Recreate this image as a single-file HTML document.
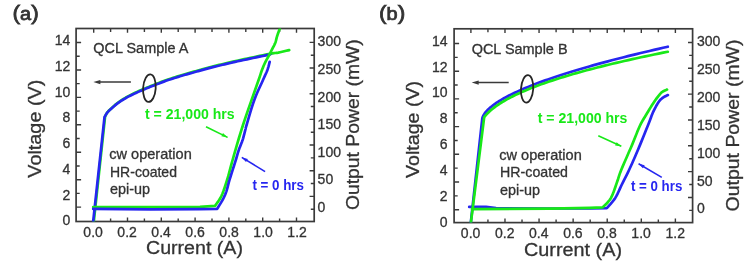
<!DOCTYPE html><html><head><meta charset="utf-8"><style>html,body{margin:0;padding:0;background:#fff;}svg{display:block;filter:blur(0.45px);}</style></head><body>
<svg width="750" height="261" viewBox="0 0 750 261" font-family='"Liberation Sans", sans-serif'>
<rect width="750" height="261" fill="#ffffff"/>
<path d="M93.70,28.5v4.2M93.70,221.5v-4.0M110.60,28.5v3.4M110.60,221.5v-3.0M127.50,28.5v4.2M127.50,221.5v-4.0M144.40,28.5v3.4M144.40,221.5v-3.0M161.30,28.5v4.2M161.30,221.5v-4.0M178.20,28.5v3.4M178.20,221.5v-3.0M195.10,28.5v4.2M195.10,221.5v-4.0M212.00,28.5v3.4M212.00,221.5v-3.0M228.90,28.5v4.2M228.90,221.5v-4.0M245.80,28.5v3.4M245.80,221.5v-3.0M262.70,28.5v4.2M262.70,221.5v-4.0M279.60,28.5v3.4M279.60,221.5v-3.0M296.50,28.5v4.2M296.50,221.5v-4.0M76.1,42.50h5.0M76.1,56.22h3.6M76.1,69.94h5.0M76.1,83.66h3.6M76.1,97.38h5.0M76.1,111.10h3.6M76.1,124.82h5.0M76.1,138.54h3.6M76.1,152.26h5.0M76.1,165.98h3.6M76.1,179.70h5.0M76.1,193.42h3.6M76.1,207.14h5.0M314.2,42.40h-4.6M314.2,55.23h-3.4M314.2,68.06h-4.6M314.2,80.89h-3.4M314.2,93.72h-4.6M314.2,106.55h-3.4M314.2,119.38h-4.6M314.2,132.21h-3.4M314.2,145.04h-4.6M314.2,157.87h-3.4M314.2,170.70h-4.6M314.2,183.53h-3.4M314.2,196.36h-4.6M314.2,209.19h-3.4" stroke="#3a3a3a" stroke-width="1.4" fill="none"/>
<rect x="76.1" y="28.5" width="238.10" height="193.00" stroke="#3a3a3a" stroke-width="1.7" fill="none"/>
<text id="al0" transform="translate(70.30,45.3) scale(1.0000,1)" text-anchor="end" font-size="14" fill="#333333" stroke="#333333" stroke-width="0.3">14</text>
<text id="al1" transform="translate(70.30,71.0) scale(1.0000,1)" text-anchor="end" font-size="14" fill="#333333" stroke="#333333" stroke-width="0.3">12</text>
<text id="al2" transform="translate(70.30,96.7) scale(1.0000,1)" text-anchor="end" font-size="14" fill="#333333" stroke="#333333" stroke-width="0.3">10</text>
<text id="al3" transform="translate(70.30,122.4) scale(1.0000,1)" text-anchor="end" font-size="14" fill="#333333" stroke="#333333" stroke-width="0.3">8</text>
<text id="al4" transform="translate(70.30,148.1) scale(1.0000,1)" text-anchor="end" font-size="14" fill="#333333" stroke="#333333" stroke-width="0.3">6</text>
<text id="al5" transform="translate(70.30,173.8) scale(1.0000,1)" text-anchor="end" font-size="14" fill="#333333" stroke="#333333" stroke-width="0.3">4</text>
<text id="al6" transform="translate(70.30,199.5) scale(1.0000,1)" text-anchor="end" font-size="14" fill="#333333" stroke="#333333" stroke-width="0.3">2</text>
<text id="al7" transform="translate(70.30,225.2) scale(1.0000,1)" text-anchor="end" font-size="14" fill="#333333" stroke="#333333" stroke-width="0.3">0</text>
<text id="ar0" transform="translate(317.60,46.4) scale(1.0000,1)" text-anchor="start" font-size="14" fill="#333333" stroke="#333333" stroke-width="0.3">300</text>
<text id="ar1" transform="translate(317.60,73.95) scale(1.0000,1)" text-anchor="start" font-size="14" fill="#333333" stroke="#333333" stroke-width="0.3">250</text>
<text id="ar2" transform="translate(317.60,101.5) scale(1.0000,1)" text-anchor="start" font-size="14" fill="#333333" stroke="#333333" stroke-width="0.3">200</text>
<text id="ar3" transform="translate(317.60,129.05) scale(1.0000,1)" text-anchor="start" font-size="14" fill="#333333" stroke="#333333" stroke-width="0.3">150</text>
<text id="ar4" transform="translate(317.60,156.6) scale(1.0000,1)" text-anchor="start" font-size="14" fill="#333333" stroke="#333333" stroke-width="0.3">100</text>
<text id="ar5" transform="translate(317.60,184.15) scale(1.0000,1)" text-anchor="start" font-size="14" fill="#333333" stroke="#333333" stroke-width="0.3">50</text>
<text id="ar6" transform="translate(317.60,211.7) scale(1.0000,1)" text-anchor="start" font-size="14" fill="#333333" stroke="#333333" stroke-width="0.3">0</text>
<text id="ab0" transform="translate(93.10,236.9) scale(1.0000,1)" text-anchor="middle" font-size="14" fill="#333333" stroke="#333333" stroke-width="0.3">0.0</text>
<text id="ab1" transform="translate(127.10,236.9) scale(1.0000,1)" text-anchor="middle" font-size="14" fill="#333333" stroke="#333333" stroke-width="0.3">0.2</text>
<text id="ab2" transform="translate(161.10,236.9) scale(1.0000,1)" text-anchor="middle" font-size="14" fill="#333333" stroke="#333333" stroke-width="0.3">0.4</text>
<text id="ab3" transform="translate(195.10,236.9) scale(1.0000,1)" text-anchor="middle" font-size="14" fill="#333333" stroke="#333333" stroke-width="0.3">0.6</text>
<text id="ab4" transform="translate(229.10,236.9) scale(1.0000,1)" text-anchor="middle" font-size="14" fill="#333333" stroke="#333333" stroke-width="0.3">0.8</text>
<text id="ab5" transform="translate(263.10,236.9) scale(1.0000,1)" text-anchor="middle" font-size="14" fill="#333333" stroke="#333333" stroke-width="0.3">1.0</text>
<text id="ab6" transform="translate(297.10,236.9) scale(1.0000,1)" text-anchor="middle" font-size="14" fill="#333333" stroke="#333333" stroke-width="0.3">1.2</text>
<text id="acur" transform="translate(146.00,254.3) scale(1.0327,1)" text-anchor="start" font-size="19" fill="#333333" stroke="#333333" stroke-width="0.3">Current (A)</text>
<text id="avolt" transform="translate(41,177.70) rotate(-90) scale(1.0433,1)" text-anchor="start" font-size="19" fill="#333333" stroke="#333333" stroke-width="0.3">Voltage (V)</text>
<text id="aoutp" transform="translate(359,210.10) rotate(-90) scale(1.0183,1)" text-anchor="start" font-size="19" fill="#333333" stroke="#333333" stroke-width="0.3">Output Power (mW)</text>
<text id="atag" transform="translate(12.50,20.3) scale(1.1382,1)" text-anchor="start" font-size="20" fill="#333333" stroke="#333333" stroke-width="0.75">(<tspan font-size="17.5">a</tspan>)</text>
<text id="aqcl" transform="translate(93.30,52.9) scale(1.0325,1)" text-anchor="start" font-size="14" fill="#333333" stroke="#333333" stroke-width="0.3">QCL Sample A</text>
<text id="ablk0" transform="translate(109.30,158.9) scale(1.0388,1)" text-anchor="start" font-size="14" fill="#333333" stroke="#333333" stroke-width="0.3">cw operation</text>
<text id="ablk1" transform="translate(110.00,176.6) scale(1.0010,1)" text-anchor="start" font-size="14" fill="#333333" stroke="#333333" stroke-width="0.3">HR-coated</text>
<text id="ablk2" transform="translate(110.00,193.7) scale(1.0287,1)" text-anchor="start" font-size="14" fill="#333333" stroke="#333333" stroke-width="0.3">epi-up</text>
<line x1="98.4" y1="82.1" x2="130.9" y2="82.1" stroke="#3a3a3a" stroke-width="1.5"/>
<polygon points="93.4,82.1 100.4,79.89999999999999 100.4,84.3" fill="#3a3a3a"/>
<clipPath id="aclip"><rect x="76.1" y="28.5" width="238.1" height="193.0"/></clipPath>
<g clip-path="url(#aclip)" fill="none" stroke-width="2.7" stroke-linejoin="round" stroke-linecap="round">
<path d="M93.80,221.50 L105.10,116.40 L105.36,115.92 L105.72,115.25 L106.14,114.46 L106.61,113.62 L107.11,112.81 L107.60,112.10 L108.06,111.52 L108.51,111.03 L108.97,110.56 L109.50,110.06 L110.13,109.49 L110.90,108.80 L111.82,107.95 L112.87,106.99 L114.01,105.94 L115.23,104.87 L116.50,103.81 L117.80,102.80 L119.15,101.83 L120.57,100.86 L122.04,99.90 L123.54,98.96 L125.03,98.06 L126.50,97.20 L127.94,96.39 L129.37,95.62 L130.81,94.89 L132.24,94.18 L133.67,93.48 L135.10,92.80 L136.53,92.13 L137.97,91.48 L139.40,90.84 L140.83,90.22 L142.27,89.61 L143.70,89.00 L145.13,88.40 L146.57,87.81 L148.00,87.22 L149.43,86.65 L150.87,86.07 L152.30,85.50 L153.73,84.92 L155.16,84.35 L156.59,83.78 L158.03,83.21 L159.46,82.65 L160.90,82.10 L162.32,81.57 L163.71,81.06 L165.10,80.56 L166.53,80.05 L168.02,79.54 L169.60,79.00 L171.31,78.43 L173.13,77.84 L175.02,77.24 L176.92,76.64 L178.80,76.05 L180.60,75.50 L182.32,74.98 L184.01,74.49 L185.66,74.01 L187.30,73.54 L188.94,73.07 L190.60,72.60 L192.26,72.13 L193.90,71.67 L195.54,71.21 L197.19,70.74 L198.88,70.28 L200.60,69.80 L202.37,69.31 L204.17,68.81 L206.01,68.30 L207.86,67.79 L209.73,67.29 L211.60,66.80 L213.48,66.32 L215.36,65.86 L217.26,65.39 L219.17,64.93 L221.12,64.47 L223.10,64.00 L225.06,63.53 L226.99,63.08 L228.94,62.62 L230.99,62.14 L233.19,61.64 L235.60,61.10 L238.29,60.50 L241.22,59.86 L244.31,59.19 L247.46,58.51 L250.58,57.84 L253.60,57.20 L256.63,56.55 L259.75,55.88 L262.86,55.22 L265.81,54.60 L268.50,54.05 L270.80,53.60 L272.57,53.30 L273.89,53.13 L274.94,53.03 L275.91,52.95 L276.97,52.82 L278.30,52.60 L280.05,52.24 L282.09,51.79 L284.22,51.29 L286.25,50.80 L287.97,50.39 L289.20,50.10" stroke="#18e818"/>
<path d="M93.20,221.50 L104.50,117.20 L104.76,116.72 L105.12,116.05 L105.54,115.26 L106.01,114.42 L106.51,113.61 L107.00,112.90 L107.46,112.32 L107.91,111.83 L108.38,111.36 L108.90,110.86 L109.53,110.29 L110.30,109.60 L111.22,108.75 L112.27,107.79 L113.41,106.74 L114.63,105.67 L115.90,104.61 L117.20,103.60 L118.55,102.63 L119.97,101.66 L121.44,100.70 L122.94,99.76 L124.43,98.86 L125.90,98.00 L127.34,97.19 L128.77,96.42 L130.21,95.69 L131.64,94.98 L133.07,94.28 L134.50,93.60 L135.93,92.93 L137.37,92.28 L138.80,91.64 L140.23,91.02 L141.67,90.41 L143.10,89.80 L144.53,89.20 L145.97,88.61 L147.40,88.02 L148.83,87.45 L150.27,86.87 L151.70,86.30 L153.13,85.72 L154.56,85.15 L155.99,84.58 L157.43,84.01 L158.86,83.45 L160.30,82.90 L161.72,82.37 L163.11,81.86 L164.50,81.36 L165.93,80.85 L167.42,80.34 L169.00,79.80 L170.71,79.23 L172.53,78.64 L174.42,78.04 L176.32,77.44 L178.20,76.85 L180.00,76.30 L181.72,75.78 L183.41,75.29 L185.06,74.81 L186.70,74.34 L188.34,73.87 L190.00,73.40 L191.66,72.93 L193.30,72.47 L194.94,72.01 L196.59,71.54 L198.28,71.08 L200.00,70.60 L201.77,70.11 L203.57,69.61 L205.41,69.10 L207.26,68.59 L209.13,68.09 L211.00,67.60 L212.88,67.12 L214.76,66.66 L216.66,66.19 L218.57,65.73 L220.52,65.27 L222.50,64.80 L224.46,64.33 L226.39,63.88 L228.34,63.42 L230.39,62.94 L232.59,62.44 L235.00,61.90 L237.69,61.30 L240.62,60.66 L243.71,59.99 L246.86,59.31 L249.98,58.64 L253.00,58.00 L256.11,57.34 L259.43,56.64 L262.73,55.96 L265.77,55.32 L268.34,54.79 L270.20,54.40" stroke="#2626f0"/>
<path d="M93.20,207.10 L150.00,207.20 L200.00,206.80 L215.00,205.90 L215.71,204.88 L216.71,203.53 L217.88,201.90 L219.14,200.04 L220.38,197.99 L221.50,195.80 L222.53,193.41 L223.54,190.78 L224.53,187.96 L225.51,185.01 L226.46,182.00 L227.40,179.00 L228.25,176.15 L228.99,173.42 L229.72,170.64 L230.51,167.60 L231.44,164.12 L232.60,160.00 L233.97,155.21 L235.49,149.89 L237.15,144.12 L238.96,138.00 L240.91,131.60 L243.00,125.00 L245.44,117.67 L248.27,109.43 L251.25,100.91 L254.13,92.74 L256.66,85.56 L258.60,80.00 L259.85,76.35 L260.58,74.15 L260.96,72.94 L261.18,72.25 L261.40,71.59 L261.80,70.50 L262.35,69.07 L262.89,67.69 L263.44,66.34 L264.00,65.03 L264.58,63.72 L265.20,62.40 L265.87,61.05 L266.60,59.67 L267.36,58.31 L268.10,56.98 L268.79,55.73 L269.40,54.60 L269.90,53.63 L270.33,52.79 L270.70,52.04 L271.06,51.30 L271.45,50.51 L271.90,49.60 L272.43,48.57 L273.03,47.45 L273.65,46.28 L274.26,45.10 L274.82,43.93 L275.30,42.80 L275.67,41.73 L275.96,40.69 L276.21,39.67 L276.44,38.64 L276.69,37.59 L277.00,36.50 L277.39,35.32 L277.83,34.06 L278.29,32.77 L278.75,31.52 L279.16,30.38 L279.50,29.40 L279.77,28.58 L279.98,27.87 L280.16,27.26 L280.30,26.74 L280.41,26.33 L280.50,26.00" stroke="#18e818"/>
<path d="M93.20,208.90 L150.00,209.30 L200.00,209.20 L217.20,208.80 L217.83,207.77 L218.73,206.34 L219.78,204.64 L220.88,202.84 L221.92,201.08 L222.80,199.50 L223.51,198.15 L224.13,196.90 L224.70,195.69 L225.23,194.46 L225.76,193.11 L226.30,191.60 L226.81,189.98 L227.27,188.32 L227.73,186.56 L228.21,184.63 L228.79,182.46 L229.50,180.00 L230.41,177.04 L231.49,173.59 L232.66,169.90 L233.83,166.24 L234.91,162.85 L235.80,160.00 L236.48,157.75 L237.01,155.93 L237.46,154.38 L237.86,152.96 L238.29,151.55 L238.80,150.00 L239.40,148.33 L240.05,146.67 L240.72,145.00 L241.39,143.33 L242.02,141.67 L242.60,140.00 L243.13,138.28 L243.63,136.48 L244.11,134.69 L244.54,132.96 L244.94,131.38 L245.30,130.00 L245.52,129.11 L245.60,128.70 L245.64,128.44 L245.74,127.96 L246.03,126.93 L246.60,125.00 L247.50,121.93 L248.66,117.96 L249.99,113.44 L251.42,108.70 L252.88,104.11 L254.30,100.00 L255.74,96.26 L257.29,92.59 L258.86,89.06 L260.38,85.74 L261.79,82.70 L263.00,80.00 L264.01,77.73 L264.86,75.86 L265.60,74.26 L266.25,72.83 L266.84,71.45 L267.40,70.00 L267.93,68.43 L268.41,66.83 L268.82,65.28 L269.18,63.86 L269.47,62.67 L269.70,61.80" stroke="#2626f0"/>
</g>
<ellipse cx="149.4" cy="88.2" rx="6.3" ry="13.8" transform="rotate(4 149.4 88.2)" stroke="#262626" stroke-width="1.8" fill="none"/>
<line x1="206" y1="126.7" x2="227.6" y2="137.4" stroke="#18e818" stroke-width="1.6"/>
<polygon points="227.6,137.4 221.4,136.3 223.0,133.1" fill="#18e818"/>
<line x1="241.8" y1="157.4" x2="265.1" y2="171.6" stroke="#2626f0" stroke-width="1.6"/>
<polygon points="241.8,157.4 247.9,159.0 246.0,162.1" fill="#2626f0"/>
<text id="at21" transform="translate(145.00,118.9) scale(0.9274,1)" text-anchor="start" font-size="15.2" fill="#18e818" stroke="#18e818" stroke-width="0.0" font-weight="bold">t = 21,000 hrs</text>
<text id="at0" transform="translate(252.40,190.2) scale(0.8801,1)" text-anchor="start" font-size="15.2" fill="#2626f0" stroke="#2626f0" stroke-width="0.0" font-weight="bold">t = 0 hrs</text>
<path d="M470.90,28.8v4.2M470.90,222.6v-4.0M487.94,28.8v3.4M487.94,222.6v-3.0M504.98,28.8v4.2M504.98,222.6v-4.0M522.02,28.8v3.4M522.02,222.6v-3.0M539.06,28.8v4.2M539.06,222.6v-4.0M556.10,28.8v3.4M556.10,222.6v-3.0M573.14,28.8v4.2M573.14,222.6v-4.0M590.18,28.8v3.4M590.18,222.6v-3.0M607.22,28.8v4.2M607.22,222.6v-4.0M624.26,28.8v3.4M624.26,222.6v-3.0M641.30,28.8v4.2M641.30,222.6v-4.0M658.34,28.8v3.4M658.34,222.6v-3.0M675.38,28.8v4.2M675.38,222.6v-4.0M454.1,43.50h5.0M454.1,57.35h3.6M454.1,71.20h5.0M454.1,85.05h3.6M454.1,98.90h5.0M454.1,112.75h3.6M454.1,126.60h5.0M454.1,140.45h3.6M454.1,154.30h5.0M454.1,168.15h3.6M454.1,182.00h5.0M454.1,195.85h3.6M454.1,209.70h5.0M692.6,42.45h-4.6M692.6,55.37h-3.4M692.6,68.29h-4.6M692.6,81.21h-3.4M692.6,94.13h-4.6M692.6,107.05h-3.4M692.6,119.97h-4.6M692.6,132.89h-3.4M692.6,145.81h-4.6M692.6,158.73h-3.4M692.6,171.65h-4.6M692.6,184.57h-3.4M692.6,197.49h-4.6M692.6,210.41h-3.4" stroke="#3a3a3a" stroke-width="1.4" fill="none"/>
<rect x="454.1" y="28.8" width="238.50" height="193.80" stroke="#3a3a3a" stroke-width="1.7" fill="none"/>
<text id="bl0" transform="translate(447.60,45.6) scale(1.0000,1)" text-anchor="end" font-size="14" fill="#333333" stroke="#333333" stroke-width="0.3">14</text>
<text id="bl1" transform="translate(447.60,71.5) scale(1.0000,1)" text-anchor="end" font-size="14" fill="#333333" stroke="#333333" stroke-width="0.3">12</text>
<text id="bl2" transform="translate(447.60,97.4) scale(1.0000,1)" text-anchor="end" font-size="14" fill="#333333" stroke="#333333" stroke-width="0.3">10</text>
<text id="bl3" transform="translate(447.60,123.3) scale(1.0000,1)" text-anchor="end" font-size="14" fill="#333333" stroke="#333333" stroke-width="0.3">8</text>
<text id="bl4" transform="translate(447.60,149.2) scale(1.0000,1)" text-anchor="end" font-size="14" fill="#333333" stroke="#333333" stroke-width="0.3">6</text>
<text id="bl5" transform="translate(447.60,175.1) scale(1.0000,1)" text-anchor="end" font-size="14" fill="#333333" stroke="#333333" stroke-width="0.3">4</text>
<text id="bl6" transform="translate(447.60,201.0) scale(1.0000,1)" text-anchor="end" font-size="14" fill="#333333" stroke="#333333" stroke-width="0.3">2</text>
<text id="bl7" transform="translate(447.60,226.9) scale(1.0000,1)" text-anchor="end" font-size="14" fill="#333333" stroke="#333333" stroke-width="0.3">0</text>
<text id="br0" transform="translate(696.90,46.4) scale(1.0000,1)" text-anchor="start" font-size="14" fill="#333333" stroke="#333333" stroke-width="0.3">300</text>
<text id="br1" transform="translate(696.90,74.23) scale(1.0000,1)" text-anchor="start" font-size="14" fill="#333333" stroke="#333333" stroke-width="0.3">250</text>
<text id="br2" transform="translate(696.90,102.06) scale(1.0000,1)" text-anchor="start" font-size="14" fill="#333333" stroke="#333333" stroke-width="0.3">200</text>
<text id="br3" transform="translate(696.90,129.89) scale(1.0000,1)" text-anchor="start" font-size="14" fill="#333333" stroke="#333333" stroke-width="0.3">150</text>
<text id="br4" transform="translate(696.90,157.72) scale(1.0000,1)" text-anchor="start" font-size="14" fill="#333333" stroke="#333333" stroke-width="0.3">100</text>
<text id="br5" transform="translate(696.90,185.55) scale(1.0000,1)" text-anchor="start" font-size="14" fill="#333333" stroke="#333333" stroke-width="0.3">50</text>
<text id="br6" transform="translate(696.90,213.38) scale(1.0000,1)" text-anchor="start" font-size="14" fill="#333333" stroke="#333333" stroke-width="0.3">0</text>
<text id="bb0" transform="translate(470.60,238.1) scale(1.0000,1)" text-anchor="middle" font-size="14" fill="#333333" stroke="#333333" stroke-width="0.3">0.0</text>
<text id="bb1" transform="translate(504.70,238.1) scale(1.0000,1)" text-anchor="middle" font-size="14" fill="#333333" stroke="#333333" stroke-width="0.3">0.2</text>
<text id="bb2" transform="translate(538.80,238.1) scale(1.0000,1)" text-anchor="middle" font-size="14" fill="#333333" stroke="#333333" stroke-width="0.3">0.4</text>
<text id="bb3" transform="translate(572.90,238.1) scale(1.0000,1)" text-anchor="middle" font-size="14" fill="#333333" stroke="#333333" stroke-width="0.3">0.6</text>
<text id="bb4" transform="translate(607.00,238.1) scale(1.0000,1)" text-anchor="middle" font-size="14" fill="#333333" stroke="#333333" stroke-width="0.3">0.8</text>
<text id="bb5" transform="translate(641.10,238.1) scale(1.0000,1)" text-anchor="middle" font-size="14" fill="#333333" stroke="#333333" stroke-width="0.3">1.0</text>
<text id="bb6" transform="translate(675.20,238.1) scale(1.0000,1)" text-anchor="middle" font-size="14" fill="#333333" stroke="#333333" stroke-width="0.3">1.2</text>
<text id="bcur" transform="translate(524.00,255.5) scale(1.0433,1)" text-anchor="start" font-size="19" fill="#333333" stroke="#333333" stroke-width="0.3">Current (A)</text>
<text id="bvolt" transform="translate(419,177.90) rotate(-90) scale(1.0326,1)" text-anchor="start" font-size="19" fill="#333333" stroke="#333333" stroke-width="0.3">Voltage (V)</text>
<text id="boutp" transform="translate(738.5,211.40) rotate(-90) scale(1.0241,1)" text-anchor="start" font-size="19" fill="#333333" stroke="#333333" stroke-width="0.3">Output Power (mW)</text>
<text id="btag" transform="translate(379.00,20.3) scale(1.1414,1)" text-anchor="start" font-size="20" fill="#333333" stroke="#333333" stroke-width="0.75">(<tspan font-size="17.5">b</tspan>)</text>
<text id="bqcl" transform="translate(471.70,54.1) scale(1.0332,1)" text-anchor="start" font-size="14" fill="#333333" stroke="#333333" stroke-width="0.3">QCL Sample B</text>
<text id="bblk0" transform="translate(499.30,159.5) scale(1.0388,1)" text-anchor="start" font-size="14" fill="#333333" stroke="#333333" stroke-width="0.3">cw operation</text>
<text id="bblk1" transform="translate(500.00,177.2) scale(1.0158,1)" text-anchor="start" font-size="14" fill="#333333" stroke="#333333" stroke-width="0.3">HR-coated</text>
<text id="bblk2" transform="translate(500.00,194.5) scale(1.0285,1)" text-anchor="start" font-size="14" fill="#333333" stroke="#333333" stroke-width="0.3">epi-up</text>
<line x1="476.7" y1="82.6" x2="508.7" y2="82.6" stroke="#3a3a3a" stroke-width="1.5"/>
<polygon points="471.7,82.6 478.7,80.39999999999999 478.7,84.8" fill="#3a3a3a"/>
<clipPath id="bclip"><rect x="454.1" y="28.8" width="238.5" height="193.79999999999998"/></clipPath>
<g clip-path="url(#bclip)" fill="none" stroke-width="2.7" stroke-linejoin="round" stroke-linecap="round">
<path d="M470.80,222.60 L482.30,118.44 L482.33,118.31 L482.42,117.96 L482.57,117.47 L482.78,116.89 L483.04,116.26 L483.37,115.59 L483.76,114.89 L484.20,114.17 L484.71,113.42 L485.27,112.66 L485.90,111.89 L486.58,111.11 L487.32,110.31 L488.13,109.50 L488.99,108.68 L489.91,107.86 L490.89,107.02 L491.93,106.18 L493.03,105.33 L494.19,104.47 L495.41,103.61 L496.69,102.73 L498.02,101.86 L499.42,100.97 L500.88,100.09 L502.39,99.19 L503.97,98.29 L505.60,97.39 L507.30,96.48 L509.05,95.57 L510.86,94.65 L512.74,93.72 L514.67,92.80 L516.66,91.86 L518.71,90.93 L520.82,89.99 L522.99,89.05 L525.22,88.10 L527.51,87.15 L529.86,86.19 L532.26,85.23 L534.73,84.27 L537.26,83.31 L539.84,82.34 L542.49,81.37 L545.19,80.39 L547.96,79.41 L550.78,78.43 L553.66,77.45 L556.61,76.46 L559.61,75.47 L562.67,74.48 L565.79,73.48 L568.97,72.49 L572.21,71.48 L575.51,70.48 L578.87,69.47 L582.29,68.46 L585.77,67.45 L589.30,66.44 L592.90,65.42 L596.55,64.40 L600.27,63.38 L604.04,62.36 L607.88,61.33 L611.77,60.30 L615.73,59.27 L619.74,58.24 L623.81,57.20 L627.94,56.17 L632.13,55.13 L636.38,54.08 L640.69,53.04 L645.06,51.99 L649.49,50.95 L653.98,49.90 L658.53,48.84 L663.13,47.79 L667.80,46.73" stroke="#2626f0"/>
<path d="M469.20,206.90 L486.00,206.90 L496.00,208.20 L550.00,208.50 L590.00,208.50 L606.80,208.20 L607.75,207.11 L609.09,205.63 L610.66,203.86 L612.31,201.91 L613.91,199.89 L615.30,197.90 L616.46,195.93 L617.51,193.89 L618.50,191.78 L619.48,189.59 L620.49,187.33 L621.60,185.00 L622.79,182.61 L624.03,180.17 L625.31,177.66 L626.61,175.06 L627.95,172.34 L629.30,169.50 L630.67,166.53 L632.06,163.46 L633.47,160.28 L634.91,156.98 L636.39,153.56 L637.90,150.00 L639.52,146.12 L641.27,141.89 L643.05,137.53 L644.77,133.28 L646.35,129.36 L647.70,126.00 L648.78,123.24 L649.67,120.91 L650.41,118.92 L651.06,117.16 L651.67,115.55 L652.30,114.00 L652.91,112.57 L653.44,111.37 L653.94,110.31 L654.43,109.32 L654.94,108.34 L655.50,107.30 L656.12,106.17 L656.77,105.01 L657.44,103.86 L658.12,102.74 L658.81,101.71 L659.50,100.80 L660.19,100.01 L660.89,99.33 L661.59,98.73 L662.29,98.18 L663.00,97.68 L663.70,97.20 L664.45,96.74 L665.26,96.31 L666.06,95.93 L666.81,95.59 L667.44,95.31 L667.90,95.10" stroke="#2626f0"/>
<path d="M470.90,222.60 L484.20,117.16 L484.23,117.12 L484.32,117.01 L484.46,116.82 L484.67,116.56 L484.94,116.24 L485.26,115.85 L485.64,115.40 L486.08,114.90 L486.58,114.35 L487.14,113.76 L487.76,113.12 L488.44,112.45 L489.17,111.75 L489.97,111.03 L490.82,110.27 L491.73,109.50 L492.70,108.70 L493.73,107.89 L494.82,107.07 L495.97,106.23 L497.17,105.37 L498.44,104.51 L499.76,103.64 L501.14,102.76 L502.59,101.87 L504.09,100.98 L505.65,100.08 L507.26,99.17 L508.94,98.27 L510.68,97.35 L512.47,96.44 L514.32,95.52 L516.24,94.60 L518.21,93.67 L520.24,92.74 L522.33,91.82 L524.47,90.89 L526.68,89.96 L528.95,89.02 L531.27,88.09 L533.65,87.16 L536.09,86.22 L538.59,85.29 L541.15,84.35 L543.77,83.42 L546.45,82.48 L549.19,81.54 L551.98,80.61 L554.83,79.67 L557.75,78.73 L560.72,77.80 L563.75,76.86 L566.84,75.93 L569.98,74.99 L573.19,74.06 L576.46,73.12 L579.78,72.19 L583.16,71.25 L586.61,70.32 L590.11,69.39 L593.67,68.45 L597.28,67.52 L600.96,66.59 L604.70,65.66 L608.49,64.73 L612.35,63.80 L616.26,62.87 L620.23,61.94 L624.26,61.01 L628.35,60.08 L632.50,59.16 L636.70,58.23 L640.97,57.30 L645.29,56.38 L649.68,55.45 L654.12,54.53 L658.62,53.61 L663.18,52.68 L667.80,51.76" stroke="#18e818"/>
<path d="M472.00,209.10 L550.00,208.60 L590.00,207.80 L602.60,207.40 L603.54,206.45 L604.85,205.21 L606.40,203.71 L608.04,201.97 L609.62,200.02 L611.00,197.90 L612.21,195.44 L613.38,192.60 L614.49,189.54 L615.53,186.47 L616.51,183.56 L617.40,181.00 L618.10,179.00 L618.58,177.47 L618.99,176.09 L619.47,174.59 L620.16,172.66 L621.20,170.00 L622.71,166.39 L624.59,162.01 L626.69,157.21 L628.83,152.32 L630.86,147.67 L632.60,143.60 L634.05,140.09 L635.34,136.86 L636.51,133.87 L637.61,131.09 L638.69,128.48 L639.80,126.00 L640.93,123.71 L642.03,121.66 L643.12,119.77 L644.19,117.99 L645.25,116.25 L646.30,114.50 L647.35,112.72 L648.41,110.97 L649.46,109.27 L650.48,107.63 L651.46,106.06 L652.40,104.60 L653.28,103.25 L654.10,102.00 L654.88,100.82 L655.65,99.71 L656.42,98.65 L657.20,97.60 L658.00,96.56 L658.79,95.54 L659.59,94.57 L660.39,93.66 L661.19,92.83 L662.00,92.10 L662.88,91.48 L663.84,90.95 L664.80,90.51 L665.70,90.14 L666.45,89.84 L667.00,89.60" stroke="#18e818"/>
</g>
<ellipse cx="527.1" cy="88.85" rx="6.1" ry="13.75" transform="rotate(4 527.1 88.85)" stroke="#262626" stroke-width="1.8" fill="none"/>
<line x1="598.3" y1="135.7" x2="621.3" y2="146.3" stroke="#18e818" stroke-width="1.6"/>
<polygon points="621.3,146.3 615.1,145.4 616.6,142.2" fill="#18e818"/>
<line x1="638.6" y1="163.7" x2="661.8" y2="177.4" stroke="#2626f0" stroke-width="1.6"/>
<polygon points="638.6,163.7 644.7,165.2 642.9,168.3" fill="#2626f0"/>
<text id="bt21" transform="translate(537.70,123) scale(0.9277,1)" text-anchor="start" font-size="15.2" fill="#18e818" stroke="#18e818" stroke-width="0.0" font-weight="bold">t = 21,000 hrs</text>
<text id="bt0" transform="translate(630.90,191.2) scale(0.8762,1)" text-anchor="start" font-size="15.2" fill="#2626f0" stroke="#2626f0" stroke-width="0.0" font-weight="bold">t = 0 hrs</text>
</svg></body></html>
